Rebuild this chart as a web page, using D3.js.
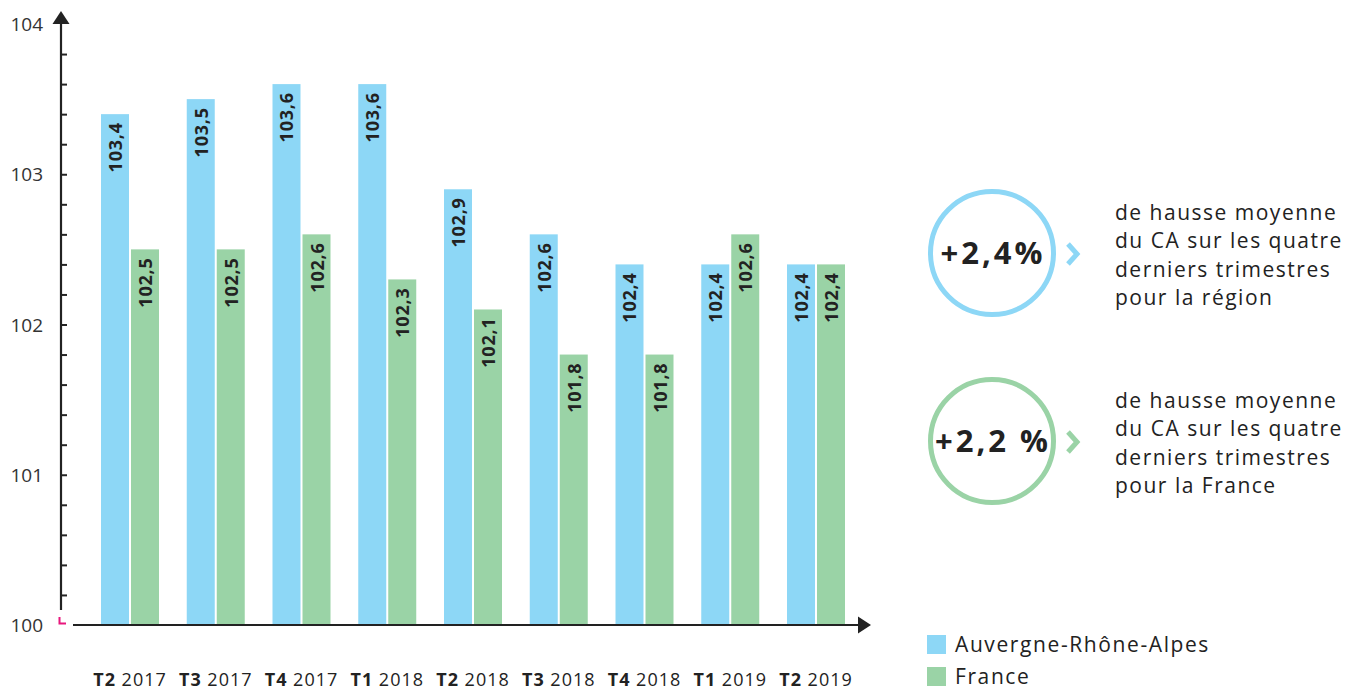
<!DOCTYPE html>
<html>
<head>
<meta charset="utf-8">
<script src="https://cdn.jsdelivr.net/npm/d3@7"></script>
<style>
  body { margin: 0; background: #ffffff; }
  svg text { font-family: 'Open Sans', sans-serif; }
</style>
</head>
<body>
<svg id="chart" width="1354" height="690"></svg>
<script>
// data
const quarters = ['T2', 'T3', 'T4', 'T1', 'T2', 'T3', 'T4', 'T1', 'T2']
const years = ['2017', '2017', '2017', '2018', '2018', '2018', '2018', '2019', '2019']
const series = ['Auvergne-Rhône-Alpes', 'France']
const regionValues = [103.4, 103.5, 103.6, 103.6, 102.9, 102.6, 102.4, 102.4, 102.4]
const franceValues = [102.5, 102.5, 102.6, 102.3, 102.1, 101.8, 101.8, 102.6, 102.4]
const yTicks = [100, 101, 102, 103, 104]
const colors = ['#8dd7f6', '#9ad3a6']
const stats = ['+2,4%', '+2,2 %']
const statTexts = [
  ['de hausse moyenne', 'du CA sur les quatre', 'derniers trimestres', 'pour la région'],
  ['de hausse moyenne', 'du CA sur les quatre', 'derniers trimestres', 'pour la France']
]

const svg = d3.select('#chart')
const categories = quarters.map((q, i) => q + ' ' + years[i])

const x = d3.scaleBand()
  .domain(d3.range(categories.length))
  .range([101, 845])
  .paddingInner(0.3236)
  .paddingOuter(0)

const xSub = d3.scaleBand()
  .domain(series)
  .range([0, x.bandwidth()])
  .paddingInner(0.0667)

const y = d3.scaleLinear()
  .domain([100, 104])
  .range([625, 24])

const color = d3.scaleOrdinal().domain(series).range(colors)

/*********** bars ***********/
const groups = svg.append('g')
  .selectAll('g')
  .data(categories.map((c, i) => ({ i, vals: [regionValues[i], franceValues[i]] })))
  .join('g')
  .attr('transform', d => 'translate(' + x(d.i) + ',0)')

groups.selectAll('rect')
  .data(d => d.vals.map((v, k) => ({ key: series[k], v })))
  .join('rect')
  .attr('x', d => xSub(d.key))
  .attr('y', d => y(d.v))
  .attr('width', xSub.bandwidth())
  .attr('height', d => y(100) - y(d.v))
  .attr('fill', d => color(d.key))

groups.selectAll('text.val')
  .data(d => d.vals.map((v, k) => ({ key: series[k], v })))
  .join('text')
  .attr('class', 'val')
  .attr('transform', d => 'translate(' + (xSub(d.key) + xSub.bandwidth() / 2 + 7) + ',' + (y(d.v) + 8) + ') rotate(-90)')
  .attr('text-anchor', 'end')
  .attr('font-size', 18)
  .attr('font-weight', 700)
  .attr('letter-spacing', 0.8)
  .attr('fill', '#222')
  .text(d => d3.format('.1f')(d.v).replace('.', ','))

/*********** axes ***********/
const yAxis = svg.append('g')
  .attr('transform', 'translate(61,0)')
  .call(d3.axisRight(y)
    .tickValues(d3.range(100.2, 104, 0.2))
    .tickSize(6)
    .tickFormat(''))
yAxis.select('.domain').remove()
yAxis.selectAll('.tick line').attr('stroke', '#222').attr('stroke-width', 2)

svg.append('line')
  .attr('x1', 61).attr('x2', 61)
  .attr('y1', y(100) - 15).attr('y2', 20)
  .attr('stroke', '#222').attr('stroke-width', 2.2)

svg.append('path')
  .attr('d', 'M61,11 L69.5,24 L52.5,24 Z')
  .attr('fill', '#222')

// pink origin mark
svg.append('path')
  .attr('d', 'M59.5,617 L59.5,623.5 L66,623.5')
  .attr('fill', 'none')
  .attr('stroke', '#e8177d')
  .attr('stroke-width', 2)

svg.append('line')
  .attr('x1', 73).attr('x2', 860)
  .attr('y1', y(100)).attr('y2', y(100))
  .attr('stroke', '#222').attr('stroke-width', 2.2)

svg.append('path')
  .attr('d', 'M871,' + y(100) + ' L858,' + (y(100) - 8.5) + ' L858,' + (y(100) + 8.5) + ' Z')
  .attr('fill', '#222')

svg.append('g')
  .selectAll('text')
  .data(yTicks)
  .join('text')
  .attr('x', 43)
  .attr('y', d => y(d) + 7)
  .attr('text-anchor', 'end')
  .attr('font-size', 19)
  .attr('fill', '#333')
  .text(d => d)

const xLabels = svg.append('g')
  .selectAll('text')
  .data(categories.map((c, i) => i))
  .join('text')
  .attr('x', i => x(i) + x.bandwidth() / 2)
  .attr('y', 686)
  .attr('text-anchor', 'middle')
  .attr('font-size', 18)
  .attr('letter-spacing', 1)
  .attr('fill', '#222')
xLabels.append('tspan').attr('font-weight', 700).text(i => quarters[i])
xLabels.append('tspan').text(i => ' ' + years[i])

/*********** stats ***********/
const statCy = [253, 441]
stats.forEach((s, k) => {
  const cy = statCy[k]
  svg.append('circle')
    .attr('cx', 992).attr('cy', cy).attr('r', 61.5)
    .attr('fill', 'none')
    .attr('stroke', colors[k])
    .attr('stroke-width', 5)
  svg.append('text')
    .attr('x', 993).attr('y', cy + 11)
    .attr('text-anchor', 'middle')
    .attr('font-size', 31)
    .attr('font-weight', 700)
    .attr('letter-spacing', 3)
    .attr('fill', '#222')
    .text(s)
  svg.append('path')
    .attr('d', 'M1068,' + (cy - 9) + ' L1077,' + (cy + 1) + ' L1068,' + (cy + 11))
    .attr('fill', 'none')
    .attr('stroke', colors[k])
    .attr('stroke-width', 5)
  svg.append('g')
    .selectAll('text')
    .data(statTexts[k])
    .join('text')
    .attr('x', 1115)
    .attr('y', (d, j) => cy - 33 + j * 28.3)
    .attr('font-size', 21)
    .attr('letter-spacing', 1.5)
    .attr('fill', '#222')
    .text(d => d)
})

/*********** legend ***********/
const legend = svg.append('g')
  .selectAll('g')
  .data(series)
  .join('g')
  .attr('transform', (d, i) => 'translate(927,' + (635 + i * 32) + ')')
legend.append('rect')
  .attr('width', 19).attr('height', 19)
  .attr('fill', d => color(d))
legend.append('text')
  .attr('x', 28).attr('y', 17)
  .attr('font-size', 21)
  .attr('letter-spacing', 1.6)
  .attr('fill', '#222')
  .text(d => d)
</script>
</body>
</html>
